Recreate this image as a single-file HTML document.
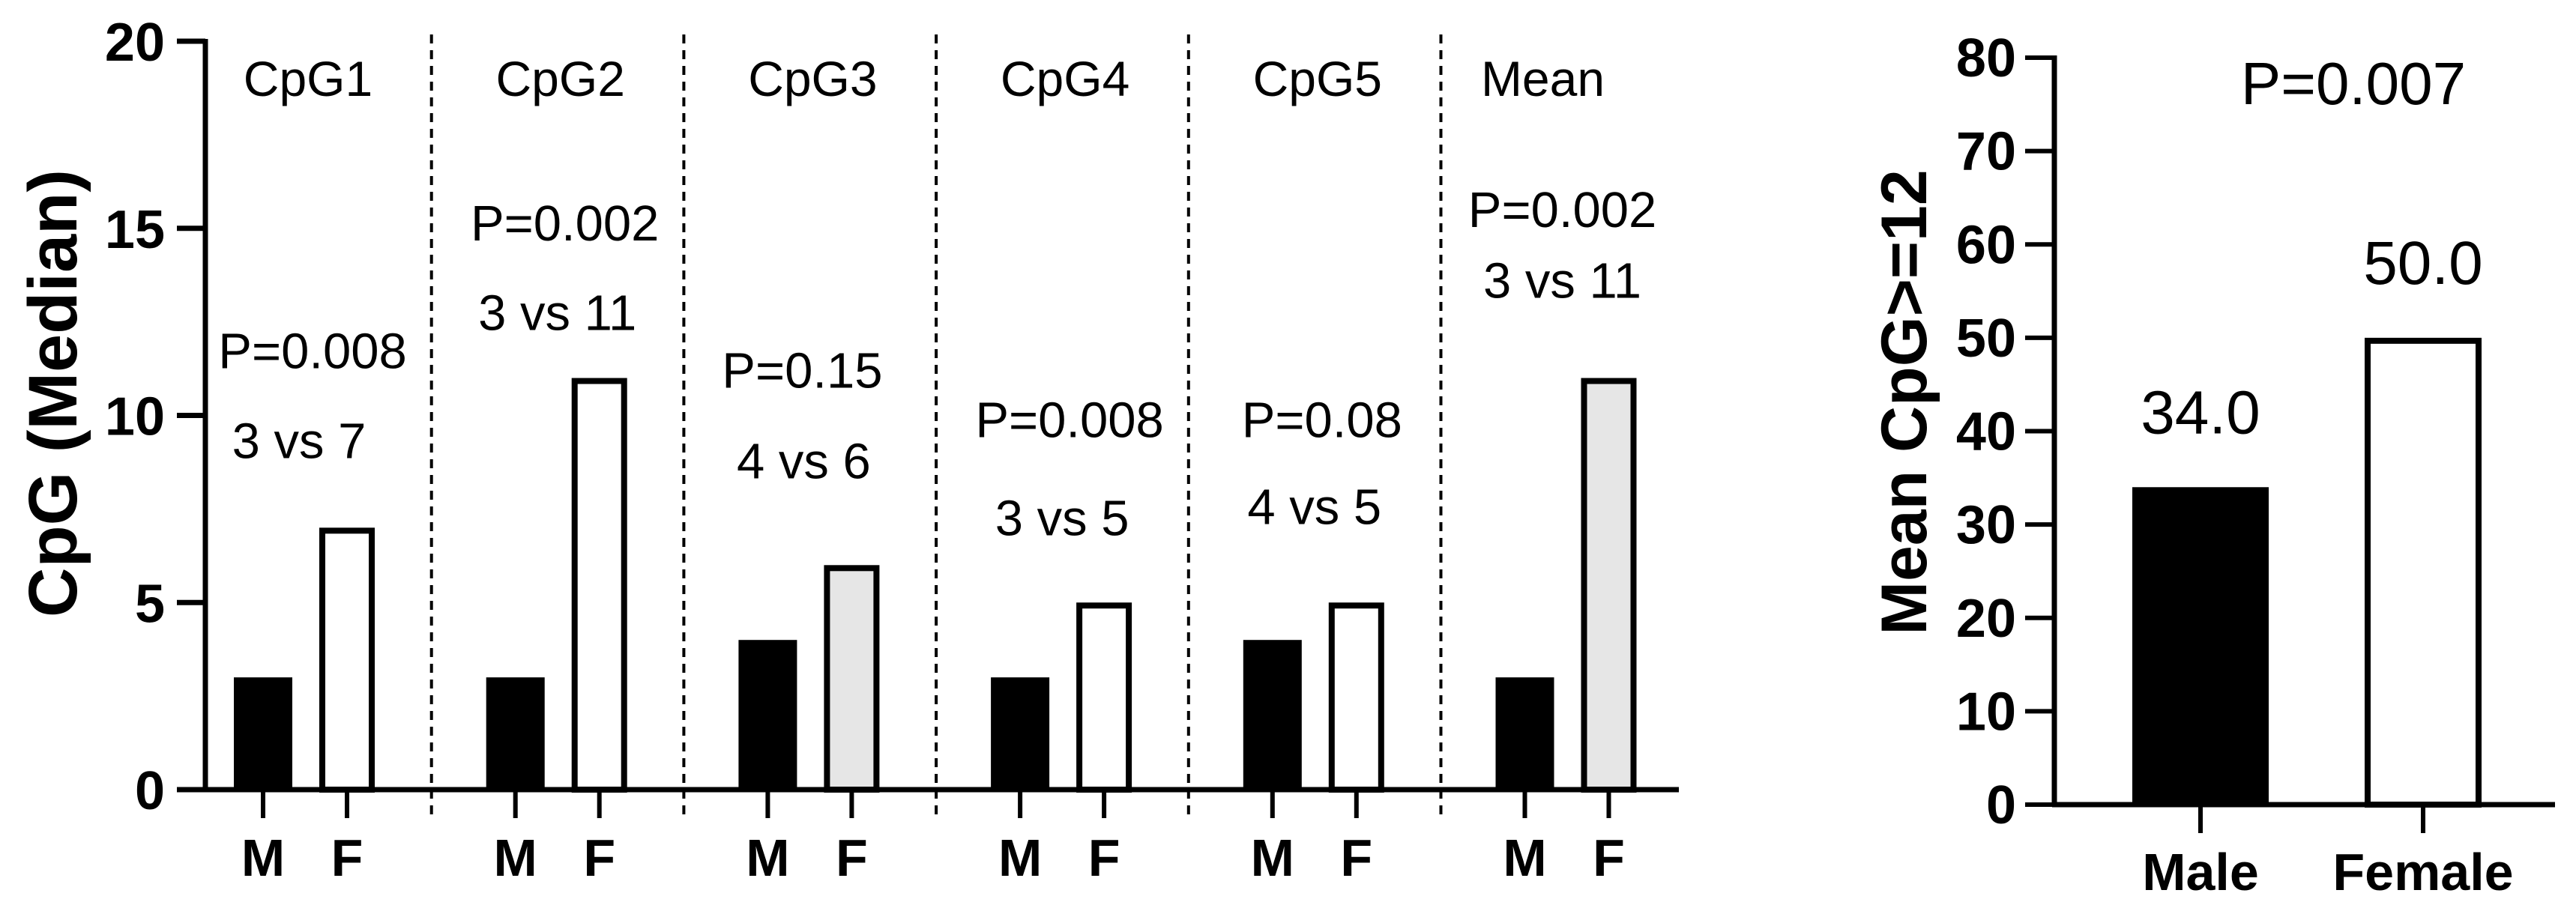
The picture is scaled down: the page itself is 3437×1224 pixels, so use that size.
<!DOCTYPE html>
<html><head><meta charset="utf-8">
<style>
html,body{margin:0;padding:0;background:#fff;}
svg{display:block;font-family:"Liberation Sans",Arial,sans-serif;}
</style></head>
<body>
<svg id="chart" width="3437" height="1224" viewBox="0 0 3437 1224" xmlns="http://www.w3.org/2000/svg">
<g id="left"></g>
<g id="right"></g>
</svg>
<script>
// Left chart data
const groups = ["CpG1","CpG2","CpG3","CpG4","CpG5","Mean"];
const maleValues = [3,3,4,3,4,3];
const femaleValues = [7,11,6,5,5,11];
const femaleGray = [false,false,true,false,false,true];
const pLabels = ["P=0.008","P=0.002","P=0.15","P=0.008","P=0.08","P=0.002"];
const vsLabels = ["3 vs 7","3 vs 11","4 vs 6","3 vs 5","4 vs 5","3 vs 11"];
const pLevel = [11.74,15.16,11.22,9.9,9.9,15.52];
const vsLevel = [9.34,12.76,8.8,7.28,7.58,13.62];
const leftTicks = [0,5,10,15,20];
// Right chart data
const rightCats = ["Male","Female"];
const rightValues = [34.0,50.0];
const rightTicks = [0,10,20,30,40,50,60,70,80];

const NS="http://www.w3.org/2000/svg";
function mk(parent,tag,attrs,text){const e=document.createElementNS(NS,tag);for(const k in attrs)e.setAttribute(k,attrs[k]);if(text!==undefined)e.textContent=text;parent.appendChild(e);return e;}

// ---- Left chart ----
const L=document.getElementById('left');
const y0=1054, y20=55, axX=274;
const yL=v=>y0-(v/20)*(y0-y20);
const gx=i=>407+i*336.7;
mk(L,'line',{x1:axX,y1:y20-3,x2:axX,y2:y0+3,stroke:'#000','stroke-width':7});
const xa=mk(L,'line',{x1:axX-3,y1:y0,x2:2240,y2:y0,stroke:'#000','stroke-width':7});

leftTicks.forEach(t=>{
  const tk=mk(L,'line',{x1:236,y1:yL(t),x2:axX,y2:yL(t),stroke:'#000','stroke-width':7});
  
  
  const tl=mk(L,'text',{x:220,y:yL(t)+26,'text-anchor':'end','font-size':72,'font-weight':'bold'},t);
  
  
});
const yt=mk(L,'text',{x:0,y:0,transform:'translate(102,525) rotate(-90)','text-anchor':'middle','font-size':92,'font-weight':'bold'},'CpG (Median)');


groups.forEach((g,i)=>{
  const c=gx(i), mx=c-56, fx=c+56;
  if(i>0){
    const d=mk(L,'line',{x1:c-168,y1:46,x2:c-168,y2:1092,stroke:'#000','stroke-width':4,'stroke-dasharray':'12,9'});
    
    
  }
  const mb=mk(L,'rect',{x:mx-39,y:yL(maleValues[i]),width:78,height:y0-yL(maleValues[i]),fill:'#000'});
  
  
  const fb=mk(L,'rect',{x:fx-33,y:yL(femaleValues[i])+4,width:66,height:y0-yL(femaleValues[i])-4,fill:femaleGray[i]?'#e6e6e6':'#fff',stroke:'#000','stroke-width':8});
  
  
  [mx,fx].forEach(x=>{
    const t=mk(L,'line',{x1:x,y1:y0,x2:x,y2:1092,stroke:'#000','stroke-width':6});
    
    
  });
  const ml=mk(L,'text',{x:mx,y:1169,'text-anchor':'middle','font-size':70,'font-weight':'bold'},'M');
  
  
  const fl=mk(L,'text',{x:fx,y:1169,'text-anchor':'middle','font-size':70,'font-weight':'bold'},'F');
  
  
  const gl=mk(L,'text',{x:i===5?c-32:c+4,y:128,'text-anchor':'middle','font-size':66},g);
  
  
  const pl=mk(L,'text',{x:c+(i===2?-10:i===5?-6:10),y:yL(pLevel[i])+24,'text-anchor':'middle','font-size':67},pLabels[i]);
  
  
  const vl=mk(L,'text',{x:c+(i===0?-8:i===2?-8:i===5?-6:0),y:yL(vsLevel[i])+24,'text-anchor':'middle','font-size':67},vsLabels[i]);
  
  
});

// ---- Right chart ----
const R=document.getElementById('right');
const r0=1074, r80=77, rX=2741;
const yR=v=>r0-(v/80)*(r0-r80);
const rcx=[2936,3233];
mk(R,'line',{x1:rX,y1:r80-3,x2:rX,y2:r0+3,stroke:'#000','stroke-width':7});
mk(R,'line',{x1:rX-3,y1:r0,x2:3409,y2:r0,stroke:'#000','stroke-width':7});
rightTicks.forEach(t=>{
  const tk=mk(R,'line',{x1:2702,y1:yR(t),x2:rX,y2:yR(t),stroke:'#000','stroke-width':6});
  
  
  const tl=mk(R,'text',{x:2690,y:yR(t)+25,'text-anchor':'end','font-size':72,'font-weight':'bold'},t);
  
  
});
const ryt=mk(R,'text',{x:0,y:0,transform:'translate(2570,537) rotate(-90)','text-anchor':'middle','font-size':86,'font-weight':'bold'},'Mean CpG>=12');


rightCats.forEach((c,i)=>{
  const x=rcx[i];
  let b;
  if(i===0) b=mk(R,'rect',{x:x-91,y:yR(rightValues[i]),width:182,height:r0-yR(rightValues[i]),fill:'#000'});
  else b=mk(R,'rect',{x:x-74,y:yR(rightValues[i])+4,width:148,height:r0-yR(rightValues[i])-4,fill:'#fff',stroke:'#000','stroke-width':8});
  
  
  const tk=mk(R,'line',{x1:x,y1:r0,x2:x,y2:1112,stroke:'#000','stroke-width':6});
  
  
  const xl=mk(R,'text',{x:x,y:1188,'text-anchor':'middle','font-size':70,'font-weight':'bold'},c);
  
  
  const vl=mk(R,'text',{x:x,y:yR(rightValues[i])-72,'text-anchor':'middle','font-size':82},rightValues[i].toFixed(1));
  
  
});
const rp=mk(R,'text',{x:3140,y:139,'text-anchor':'middle','font-size':80},'P=0.007');


</script>
</body></html>
